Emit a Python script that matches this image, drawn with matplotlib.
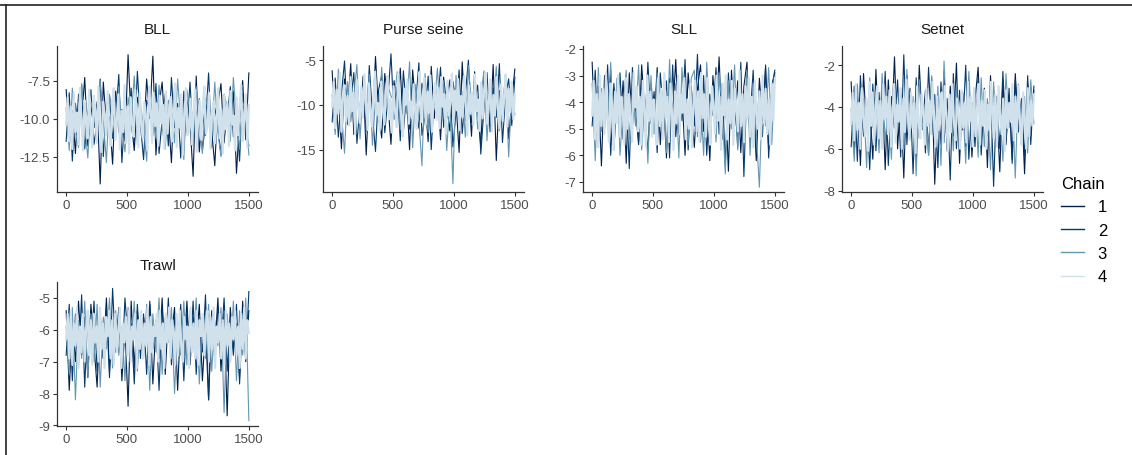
import numpy as np
import matplotlib
matplotlib.use("Agg")
import matplotlib.pyplot as plt
from matplotlib.lines import Line2D

# chain draws, thinned by hand (chains 1-3 read every ~25 iterations, chain 4 every ~12)
panels = ["BLL", "Purse seine", "SLL", "Setnet", "Trawl"]
chains = ["1", "2", "3", "4"]
chain_colors = ["#011f4b", "#03396c", "#6497b1", "#d1e1ec"]

bll_1 = [-8.1, -11.2, -9.5, -12.3, -8.4, -10.1, -7.3, -11.8, -9.2, -10.6,
         -8.9, -14.3, -7.6, -10.4, -9.9, -13.0, -8.2, -10.9, -9.4, -11.5,
         -5.8, -10.2, -12.1, -8.6, -9.7, -11.3, -7.4, -10.0, -5.9, -12.4,
         -9.1, -7.6, -11.0, -9.8, -12.9, -8.0, -10.7, -9.3, -11.9, -8.7,
         -10.3, -13.8, -7.2, -12.2, -9.6, -11.1, -8.5, -10.8, -13.1, -9.0,
         -7.7, -11.6, -9.4, -10.5, -8.2, -13.6, -10.1, -7.5, -11.4, -7.0]
bll_2 = [-11.5, -8.3, -12.8, -9.0, -10.7, -7.8, -12.0, -9.6, -8.1, -11.7,
         -10.2, -7.4, -12.5, -9.1, -8.6, -11.3, -10.0, -7.1, -12.9, -9.4,
         -10.8, -8.0, -11.6, -6.9, -10.4, -12.7, -8.8, -9.5, -11.1, -7.7,
         -12.3, -10.1, -8.4, -11.8, -7.3, -10.6, -9.0, -12.6, -8.2, -10.9,
         -7.6, -11.4, -9.8, -8.7, -12.1, -10.3, -7.0, -11.9, -9.3, -10.5,
         -12.4, -8.5, -10.0, -7.9, -11.2, -9.7, -12.8, -8.3, -10.6, -11.8]
bll_3 = [-9.3, -12.1, -8.0, -10.8, -11.9, -7.7, -10.3, -12.6, -8.9, -9.8,
         -11.4, -7.5, -10.1, -12.9, -8.4, -9.6, -11.0, -7.9, -10.7, -12.2,
         -8.6, -10.0, -7.2, -11.7, -9.1, -10.5, -12.8, -8.3, -9.9, -11.3,
         -7.8, -10.6, -12.0, -8.8, -9.4, -11.6, -7.4, -10.2, -12.7, -8.1,
         -9.7, -11.8, -7.9, -10.4, -12.3, -8.7, -9.5, -11.2, -7.6, -10.9,
         -12.5, -8.4, -9.2, -11.5, -7.3, -10.1, -12.0, -8.9, -9.6, -12.4]
bll_4 = [-10.4, -8.6, -11.5, -9.2, -12.0, -8.3, -10.9, -9.6, -11.7, -8.0,
         -10.2, -12.1, -8.8, -9.9, -11.3, -8.1, -10.7, -11.9, -8.5, -9.4,
         -11.6, -7.9, -10.3, -12.2, -8.9, -9.7, -11.1, -8.2, -10.8, -11.8,
         -9.0, -8.0, -11.4, -10.1, -8.4, -12.0, -9.5, -10.9, -7.8, -11.6,
         -9.2, -12.3, -8.6, -10.4, -11.2, -8.1, -9.8, -11.9, -8.3, -10.6,
         -11.3, -8.9, -10.0, -12.1, -7.9, -9.4, -11.6, -8.3, -10.5, -9.0,
         -11.8, -8.5, -10.3, -9.1, -12.0, -8.2, -11.0, -9.7, -8.6, -11.5,
         -10.1, -7.7, -11.9, -9.3, -10.6, -8.4, -12.4, -9.9, -8.0, -11.1,
         -10.8, -8.7, -11.7, -9.5, -8.1, -12.2, -10.0, -8.8, -11.4, -9.2,
         -7.9, -11.0, -10.5, -8.3, -12.0, -9.6, -8.9, -11.6, -10.2, -8.0,
         -11.3, -9.4, -12.3, -8.5, -10.7, -9.0, -11.8, -8.2, -10.4, -9.8,
         -12.1, -8.6, -11.1, -9.3, -7.8, -11.5, -10.0, -8.4, -11.9, -9.1]

ps_1 = [-6.2, -12.8, -8.5, -14.9, -7.1, -10.6, -5.4, -13.3, -9.0, -11.7,
        -6.8, -15.6, -7.9, -12.1, -4.6, -10.9, -13.7, -6.5, -9.8, -14.4,
        -7.3, -11.2, -5.9, -13.0, -8.7, -15.0, -6.1, -10.3, -12.6, -7.6,
        -9.4, -14.1, -5.7, -11.5, -8.2, -13.9, -6.9, -10.1, -12.9, -7.4,
        -9.7, -15.3, -5.2, -11.8, -8.0, -13.5, -6.3, -10.7, -14.6, -7.0,
        -9.1, -12.4, -5.5, -16.2, -8.4, -11.0, -6.6, -13.8, -9.5, -6.0]
ps_2 = [-11.9, -7.0, -13.6, -8.8, -5.1, -12.2, -9.6, -6.4, -14.3, -10.0,
        -7.7, -12.9, -5.6, -11.1, -15.2, -8.3, -6.7, -13.1, -9.2, -4.3,
        -11.6, -8.0, -14.0, -6.2, -10.4, -12.7, -7.5, -9.9, -5.3, -13.4,
        -11.3, -6.8, -15.0, -8.6, -10.2, -5.8, -12.5, -9.3, -7.2, -14.7,
        -10.8, -6.1, -13.2, -8.9, -5.0, -12.0, -9.7, -7.8, -15.5, -10.5,
        -6.4, -13.0, -8.1, -11.4, -5.4, -14.2, -9.0, -7.1, -12.3, -6.9]
ps_3 = [-8.9, -13.3, -6.0, -10.8, -15.4, -7.4, -11.9, -9.1, -5.5, -13.8,
        -8.2, -10.5, -6.6, -14.5, -9.4, -12.0, -5.8, -11.3, -7.9, -9.0,
        -9.6, -6.3, -12.8, -8.4, -10.9, -5.2, -14.8, -7.7, -11.6, -16.8,
        -6.5, -13.1, -8.8, -10.0, -5.9, -12.4, -7.3, -15.1, -9.5, -18.8,
        -6.7, -11.7, -8.5, -13.6, -5.6, -10.2, -7.8, -12.7, -9.2, -6.2,
        -14.0, -8.0, -10.6, -5.7, -12.9, -9.8, -7.0, -15.8, -8.6, -11.1]
ps_4 = [-10.2, -7.4, -12.6, -8.3, -11.0, -6.4, -13.0, -9.4, -7.8, -11.8,
        -9.0, -12.3, -6.9, -10.7, -8.6, -13.3, -7.2, -10.1, -12.0, -8.0,
        -11.4, -6.6, -9.7, -12.8, -7.6, -10.5, -12.4, -8.9, -6.3, -11.1,
        -9.8, -12.9, -7.4, -10.3, -12.2, -8.4, -6.8, -11.6, -9.3, -13.1,
        -7.9, -10.8, -12.5, -6.5, -9.1, -11.3, -13.5, -8.2, -10.0, -7.1,
        -12.1, -9.6, -11.5, -7.7, -10.4, -12.7, -8.7, -6.3, -11.9, -9.2,
        -7.0, -12.2, -8.5, -10.9, -6.7, -13.0, -9.5, -7.6, -11.7, -8.1,
        -12.6, -6.9, -10.2, -8.8, -13.2, -7.3, -11.2, -9.9, -6.5, -12.0,
        -8.4, -10.6, -7.1, -12.8, -9.0, -11.4, -6.8, -10.1, -13.4, -7.8,
        -11.0, -8.6, -12.3, -6.6, -10.7, -9.4, -12.9, -7.5, -11.5, -8.3,
        -6.4, -12.1, -9.7, -7.2, -13.0, -8.9, -11.2, -6.9, -10.4, -12.6,
        -7.7, -11.8, -9.1, -6.6, -12.4, -8.2, -10.8, -7.4, -11.6, -8.8]

sll_1 = [-2.5, -5.3, -3.4, -6.4, -3.0, -4.7, -2.8, -5.8, -3.9, -5.0,
         -3.2, -6.3, -2.9, -4.9, -3.6, -5.5, -2.6, -4.4, -5.9, -3.3,
         -4.8, -2.7, -5.6, -3.8, -6.1, -3.1, -4.5, -2.4, -5.2, -3.7,
         -6.0, -2.9, -4.3, -5.7, -3.5, -2.6, -5.1, -3.9, -6.2, -3.0,
         -4.6, -2.3, -5.4, -3.6, -6.6, -2.8, -4.9, -3.2, -5.9, -3.4,
         -2.5, -5.5, -3.9, -6.2, -3.1, -4.7, -2.7, -5.8, -3.5, -2.9]
sll_2 = [-4.9, -2.8, -5.7, -3.5, -5.0, -2.6, -6.0, -3.3, -4.6, -2.9,
         -5.4, -3.7, -6.5, -2.7, -4.2, -5.6, -3.1, -5.1, -2.5, -4.8,
         -3.6, -5.9, -2.9, -4.4, -3.2, -6.1, -2.6, -5.3, -3.9, -4.7,
         -2.4, -5.8, -3.4, -4.9, -2.2, -5.5, -3.0, -6.0, -3.7, -4.5,
         -2.7, -5.2, -3.3, -6.4, -2.9, -4.8, -3.6, -5.7, -2.5, -6.8,
         -3.2, -4.6, -2.8, -5.9, -3.8, -5.3, -2.6, -6.1, -3.4, -2.8]
sll_3 = [-3.3, -6.2, -2.7, -5.1, -3.8, -4.6, -2.5, -5.7, -3.1, -6.0,
         -4.1, -2.8, -5.4, -3.5, -4.9, -2.6, -5.8, -3.9, -6.3, -3.0,
         -5.2, -2.9, -4.7, -3.6, -5.9, -2.4, -5.0, -3.3, -6.1, -2.7,
         -4.4, -5.6, -3.1, -2.8, -5.3, -3.7, -6.0, -2.5, -4.8, -3.4,
         -5.5, -2.9, -4.3, -6.7, -3.2, -5.0, -2.6, -5.8, -3.8, -4.5,
         -2.8, -6.0, -3.3, -5.2, -7.2, -3.6, -4.9, -2.7, -5.6, -3.0]
sll_4 = [-4.5, -3.2, -5.4, -3.7, -5.7, -3.0, -4.9, -3.5, -5.2, -2.9,
         -4.7, -5.5, -3.3, -4.1, -5.8, -3.6, -4.8, -3.0, -5.3, -3.8,
         -4.4, -5.6, -3.1, -5.0, -3.7, -4.6, -5.5, -2.9, -4.2, -3.4,
         -5.1, -3.8, -5.6, -3.2, -4.3, -5.7, -3.0, -4.7, -3.6, -5.3,
         -3.9, -4.5, -5.6, -3.1, -4.9, -3.5, -5.4, -2.9, -4.6, -3.8,
         -5.5, -3.3, -4.4, -5.8, -3.6, -4.8, -3.0, -5.2, -3.7, -4.4,
         -3.1, -5.4, -3.9, -5.0, -3.3, -5.7, -4.0, -3.2, -5.1, -3.6,
         -5.5, -2.9, -4.6, -3.7, -5.3, -3.1, -4.9, -5.6, -3.4, -4.2,
         -5.2, -3.0, -4.7, -3.8, -5.8, -3.3, -4.5, -3.0, -5.4, -3.9,
         -4.8, -3.2, -5.6, -3.5, -4.3, -5.1, -2.8, -4.9, -3.7, -5.5,
         -3.4, -4.6, -3.1, -5.3, -3.8, -5.7, -3.2, -4.4, -5.0, -3.6,
         -5.4, -3.0, -4.8, -3.5, -5.2, -3.9, -5.6, -3.3, -4.7, -3.1]

setnet_1 = [-2.8, -6.2, -3.5, -6.8, -2.4, -5.1, -3.9, -6.5, -2.2, -5.7,
            -3.1, -7.0, -2.7, -5.3, -1.6, -6.0, -3.4, -7.4, -2.5, -5.5,
            -3.8, -6.6, -2.0, -4.9, -3.2, -6.3, -2.6, -7.7, -3.6, -5.8,
            -2.3, -6.1, -3.0, -5.4, -1.9, -6.7, -3.3, -5.9, -2.8, -6.4,
            -3.7, -2.1, -5.6, -3.1, -6.9, -2.5, -5.2, -3.9, -7.1, -2.7,
            -5.8, -3.4, -6.5, -2.4, -5.0, -3.6, -7.2, -2.9, -5.4, -3.2]
setnet_2 = [-5.9, -3.0, -6.6, -2.5, -5.4, -3.7, -7.0, -2.9, -6.1, -3.3,
            -5.6, -2.3, -6.8, -3.5, -5.0, -2.7, -6.4, -1.5, -5.8, -3.1,
            -7.2, -2.6, -5.5, -3.9, -6.2, -2.1, -5.3, -3.4, -6.9, -2.8,
            -5.7, -3.6, -7.5, -2.4, -6.0, -3.2, -5.1, -2.0, -6.5, -3.8,
            -5.9, -2.6, -6.3, -3.3, -5.4, -2.9, -7.8, -3.5, -6.0, -2.3,
            -5.6, -3.1, -6.7, -2.7, -5.2, -3.9, -6.4, -2.5, -5.8, -3.0]
setnet_3 = [-4.1, -6.6, -2.9, -5.3, -3.6, -6.9, -2.6, -5.0, -3.3, -6.2,
            -2.4, -5.7, -3.8, -6.5, -2.8, -4.9, -3.1, -6.0, -2.2, -5.5,
            -3.5, -7.3, -2.7, -5.1, -3.9, -6.3, -2.5, -5.8, -3.0, -6.8,
            -1.8, -5.4, -3.4, -6.1, -2.9, -5.6, -3.7, -6.7, -2.3, -5.2,
            -3.2, -6.4, -2.6, -5.9, -3.6, -7.0, -2.8, -5.3, -3.9, -6.6,
            -2.4, -5.0, -3.3, -7.4, -2.9, -5.7, -3.5, -6.2, -2.7, -4.8]
setnet_4 = [-4.8, -3.3, -5.6, -2.9, -5.1, -3.8, -6.0, -3.1, -4.5, -5.4,
            -3.6, -6.1, -2.8, -4.9, -3.3, -5.8, -4.0, -3.0, -5.5, -3.7,
            -6.0, -2.9, -4.6, -3.5, -5.3, -3.2, -5.9, -4.2, -2.9, -5.7,
            -3.9, -4.7, -3.1, -6.0, -3.6, -5.2, -2.7, -4.4, -5.6, -3.3,
            -5.0, -3.8, -6.2, -3.0, -4.8, -5.5, -3.4, -4.3, -5.8, -3.1,
            -4.9, -3.7, -5.3, -2.8, -4.6, -5.9, -3.5, -5.1, -4.0, -3.3,
            -5.7, -3.0, -4.5, -6.1, -3.4, -5.2, -2.9, -4.8, -5.6, -3.6,
            -4.3, -6.0, -3.2, -5.0, -3.8, -5.7, -2.8, -4.7, -3.5, -5.9,
            -3.1, -5.4, -4.1, -2.9, -5.8, -3.7, -4.9, -3.2, -6.0, -3.9,
            -5.1, -2.8, -4.6, -5.5, -3.4, -5.9, -3.0, -4.4, -5.3, -3.6,
            -6.1, -3.2, -5.0, -3.8, -4.7, -2.9, -5.6, -3.5, -5.2, -3.0,
            -4.8, -5.8, -3.3, -4.5, -6.0, -3.1, -5.4, -3.7, -4.9, -3.4]

trawl_1 = [-5.4, -7.9, -5.8, -7.0, -5.1, -6.8, -5.6, -7.5, -5.2, -6.5,
           -7.8, -5.5, -6.9, -5.0, -7.3, -5.7, -6.6, -5.3, -7.6, -5.9,
           -8.4, -5.1, -7.2, -5.4, -6.7, -5.6, -6.4, -5.2, -7.7, -5.8,
           -6.9, -5.0, -7.4, -5.5, -6.2, -5.3, -7.9, -5.7, -6.8, -5.1,
           -7.1, -5.6, -6.5, -5.2, -7.6, -5.9, -8.2, -5.4, -6.7, -5.0,
           -7.3, -5.5, -8.7, -5.3, -6.6, -5.8, -7.5, -5.1, -7.0, -5.4]
trawl_2 = [-6.8, -5.2, -7.6, -5.5, -7.1, -4.9, -7.8, -5.4, -6.6, -5.1,
           -7.3, -5.7, -6.9, -5.3, -7.5, -4.7, -6.7, -5.6, -7.2, -5.0,
           -6.4, -5.8, -7.7, -5.2, -6.9, -5.5, -7.4, -5.1, -6.6, -5.7,
           -7.9, -5.3, -6.8, -5.0, -7.1, -5.6, -6.5, -5.2, -7.6, -5.4,
           -6.9, -5.1, -7.4, -5.7, -6.7, -4.9, -8.2, -5.5, -7.0, -5.3,
           -6.6, -5.0, -7.3, -5.6, -6.8, -5.2, -7.7, -5.4, -6.9, -4.8]
trawl_3 = [-5.9, -7.4, -5.3, -8.2, -5.7, -6.9, -5.1, -7.5, -5.5, -7.0,
           -5.2, -7.8, -5.6, -6.6, -5.0, -7.2, -5.4, -6.8, -5.9, -7.6,
           -5.3, -6.5, -5.1, -7.3, -5.7, -6.9, -5.2, -7.9, -5.5, -6.7,
           -5.0, -7.4, -5.6, -6.4, -5.3, -8.0, -5.8, -6.8, -5.1, -7.1,
           -5.4, -6.6, -5.0, -7.7, -5.6, -6.9, -5.2, -7.3, -5.7, -6.5,
           -5.3, -8.6, -5.5, -7.0, -5.1, -7.6, -5.4, -6.8, -5.0, -8.85]
trawl_4 = [-6.3, -5.5, -6.9, -5.4, -7.1, -5.8, -6.5, -5.3, -7.2, -5.9,
           -6.7, -5.5, -7.0, -6.0, -5.4, -6.8, -5.7, -7.1, -5.5, -6.4,
           -5.9, -7.0, -5.3, -6.6, -5.8, -7.2, -5.6, -6.2, -5.4, -6.9,
           -5.7, -7.1, -5.5, -6.7, -6.0, -5.3, -7.2, -5.8, -6.4, -5.6,
           -6.8, -5.4, -7.0, -5.9, -6.3, -5.5, -7.2, -5.7, -6.6, -5.4,
           -6.9, -5.8, -6.5, -5.3, -7.1, -5.6, -6.7, -5.9, -6.2, -5.5,
           -7.0, -5.4, -6.6, -5.8, -7.2, -5.5, -6.4, -5.3, -6.9, -5.7,
           -6.1, -7.1, -5.5, -6.8, -5.4, -6.5, -7.0, -5.6, -6.3, -5.9,
           -7.2, -5.3, -6.7, -5.8, -6.9, -5.4, -7.1, -5.7, -6.2, -5.5,
           -6.8, -6.0, -5.4, -7.0, -5.6, -6.6, -5.3, -7.2, -5.9, -6.4,
           -5.5, -6.9, -5.7, -7.1, -5.4, -6.5, -5.8, -7.0, -5.6, -6.3,
           -5.4, -6.8, -5.9, -7.2, -5.5, -6.6, -5.3, -6.9, -5.7, -6.1]

draws = {
    "BLL": [bll_1, bll_2, bll_3, bll_4],
    "Purse seine": [ps_1, ps_2, ps_3, ps_4],
    "SLL": [sll_1, sll_2, sll_3, sll_4],
    "Setnet": [setnet_1, setnet_2, setnet_3, setnet_4],
    "Trawl": [trawl_1, trawl_2, trawl_3, trawl_4],
}
n_iter = 1500
x_ticks = [0, 500, 1000, 1500]
y_ticks = {
    "BLL": [-12.5, -10.0, -7.5],
    "Purse seine": [-15, -10, -5],
    "SLL": [-7, -6, -5, -4, -3, -2],
    "Setnet": [-8, -6, -4, -2],
    "Trawl": [-9, -8, -7, -6, -5],
}
y_lims = {
    "BLL": (-14.83, -5.23),
    "Purse seine": (-19.72, -3.43),
    "SLL": (-7.38, -1.89),
    "Setnet": (-8.07, -1.08),
    "Trawl": (-9.02, -4.5),
}

plt.rcParams['font.family'] = ['Liberation Sans', 'DejaVu Sans']
plt.rcParams['axes.unicode_minus'] = False

W, H = 1132, 456
fig = plt.figure(figsize=(W / 100, H / 100), dpi=100)

# panel boxes in pixels: left, top, width, height
boxes = {
    "BLL": (57, 47, 201, 146),
    "Purse seine": (323, 47, 201, 146),
    "SLL": (583, 47, 201, 146),
    "Setnet": (842, 47, 201, 146),
    "Trawl": (57, 283, 201, 144),
}
line_widths = [0.8, 0.8, 0.8, 1.6]

for name in panels:
    l, t, w, h = boxes[name]
    ax = fig.add_axes([l / W, (H - t - h) / H, w / W, h / H])
    for k, vals in enumerate(draws[name]):
        xs = np.linspace(1, n_iter, len(vals))
        ax.plot(xs, vals, color=chain_colors[k], lw=line_widths[k])
    ax.set_xlim(-74, 1575)
    ax.set_ylim(*y_lims[name])
    ax.set_xticks(x_ticks)
    ax.set_yticks(y_ticks[name])
    if name == "BLL":
        ax.set_yticklabels(["%.1f" % v for v in y_ticks[name]])
    for s in ["top", "right"]:
        ax.spines[s].set_visible(False)
    for s in ["left", "bottom"]:
        ax.spines[s].set_color("#333333")
        ax.spines[s].set_linewidth(0.9)
    ax.tick_params(length=3, width=0.8, color="#333333", labelsize=9.5,
                   labelcolor="#4d4d4d", pad=2)
    fig.text((l + w / 2) / W, 1 - (t - 17) / H, name, ha="center", va="center",
             fontsize=11, color="#1a1a1a")

handles = [Line2D([], [], color=c, lw=1.0) for c in chain_colors]
leg = fig.legend(handles, chains, title="Chain", loc="upper left",
                 bbox_to_anchor=(1046 / W, 1 - 162 / H), frameon=False,
                 fontsize=12, title_fontsize=12, handlelength=1.4,
                 handletextpad=0.8, labelspacing=0.5)
leg._legend_box.align = "left"

# thin frame lines along the top and left edge
fig.add_artist(Line2D([0, 1], [1 - 6 / H, 1 - 6 / H], color="#222222", lw=1.2,
                      transform=fig.transFigure))
fig.add_artist(Line2D([5.5 / W, 5.5 / W], [0, 1 - 6 / H], color="#222222", lw=1.2,
                      transform=fig.transFigure))

plt.savefig("out.png", dpi=100)
plt.close()
